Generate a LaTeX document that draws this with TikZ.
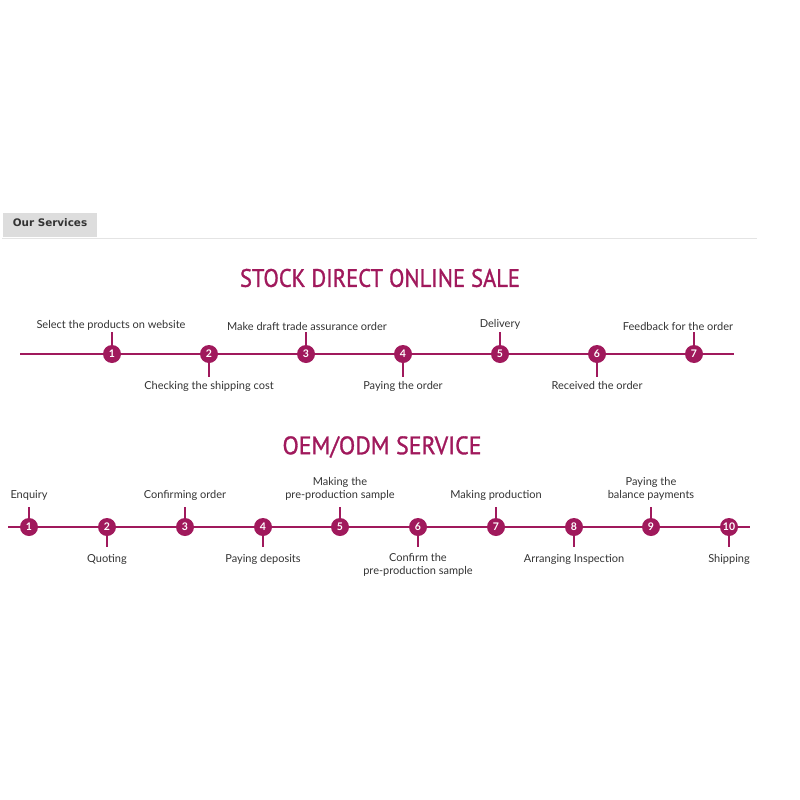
\documentclass[tikz,border=0pt]{standalone}
\usepackage{fontspec}
\usetikzlibrary{calc}
\setmainfont{Lato}
\newfontfamily\tabfont{DejaVu Sans}
\newfontfamily\titlefont[FakeBold=1.2]{PT Sans}
\definecolor{brand}{HTML}{A0195C}
\definecolor{tabgray}{HTML}{DDDDDD}
\definecolor{rulegray}{HTML}{E4E4E4}
\definecolor{txt}{HTML}{333333}
\begin{document}
\begin{tikzpicture}[x=1pt,y=-1pt,
  stepdot/.style={circle,fill=brand,minimum size=18pt,inner sep=0pt,text=white,font=\fontsize{10.5}{10.5}\selectfont\bfseries},
  flow/.style={draw=brand,line width=1.4pt},
  tick/.style={draw=brand,line width=1.2pt},
  lab/.style={text=txt,font=\fontsize{11}{13}\selectfont,align=center,inner sep=0pt},
  ttl/.style={text=brand,font=\titlefont\fontsize{24}{24}\selectfont,inner sep=0pt}]
\useasboundingbox (0,0) rectangle (800,800);
% tab
\fill[tabgray] (3,213) rectangle (97,237);
\node[text=txt,font=\tabfont\bfseries\fontsize{10.4}{11}\selectfont,inner sep=0pt] (tab) at (50,223) {Our Services};
\draw[rulegray,line width=0.8pt] (2,238) -- (757,238);
% ---- Section 1
\node[ttl] (t1) at (380,278) {\resizebox{280pt}{18pt}{STOCK DIRECT ONLINE SALE}};
\coordinate (a0) at (20,354);
\coordinate (aE) at (734,354);
\foreach \i/\x in {1/112,2/209,3/306,4/403,5/500,6/597,7/694}{
  \coordinate (ap\i) at (\x,354);
}
\draw[flow] (a0) -- (aE);
\foreach \i in {1,3,5,7}{ \coordinate (au\i) at ($(ap\i)+(0,-22)$); }
\foreach \i in {2,4,6}{ \coordinate (ad\i) at ($(ap\i)+(0,23)$); }
\foreach \i in {1,3,5,7}{ \draw[tick] (ap\i) -- (au\i); }
\foreach \i in {2,4,6}{ \draw[tick] (ap\i) -- (ad\i); }
\foreach \i in {1,...,7}{ \node[stepdot] (a\i) at (ap\i) {\i}; }
\node[lab,anchor=base] (la1) at (111,328) {Select the products on website};
\node[lab,anchor=base] (la3) at (307,330) {Make draft trade assurance order};
\node[lab,anchor=base] (la5) at (500,327) {Delivery};
\node[lab,anchor=base] (la7) at (678,330) {Feedback for the order};
\node[lab,anchor=base] (la2) at (209,389) {Checking the shipping cost};
\node[lab,anchor=base] (la4) at (403,389) {Paying the order};
\node[lab,anchor=base] (la6) at (597,389) {Received the order};
% ---- Section 2
\node[ttl] (t2) at (382,447) {\resizebox{199pt}{18pt}{OEM/ODM SERVICE}};
\coordinate (b0) at (8,527);
\coordinate (bE) at (750,527);
\foreach \i/\x in {1/29,2/107,3/185,4/263,5/340,6/418,7/496,8/574,9/651,10/729}{
  \coordinate (bp\i) at (\x,527);
}
\draw[flow] (b0) -- (bE);
\foreach \i in {1,3,5,7,9}{ \coordinate (bu\i) at ($(bp\i)+(0,-20)$); \draw[tick] (bp\i) -- (bu\i); }
\foreach \i in {2,4,6,8,10}{ \coordinate (bd\i) at ($(bp\i)+(0,20)$); \draw[tick] (bp\i) -- (bd\i); }
\foreach \i in {1,...,10}{ \node[stepdot] (b\i) at (bp\i) {\i}; }
\node[lab,anchor=base] (lb1) at (29,498) {Enquiry};
\node[lab,anchor=base] (lb3) at (185,498) {Confirming order};
\node[lab,anchor=base] (lb5) at (340,498) {Making the\\pre-production sample};
\node[lab,anchor=base] (lb7) at (496,498) {Making production};
\node[lab,anchor=base] (lb9) at (651,498) {Paying the\\balance payments};
\node[lab,anchor=base] (lb2) at (107,562) {Quoting};
\node[lab,anchor=base] (lb4) at (263,562) {Paying deposits};
\node[lab,anchor=north] (lb6) at (418,553) {Confirm the\\pre-production sample};
\node[lab,anchor=base] (lb8) at (574,562) {Arranging Inspection};
\node[lab,anchor=base] (lb10) at (729,562) {Shipping};
\end{tikzpicture}
\end{document}
